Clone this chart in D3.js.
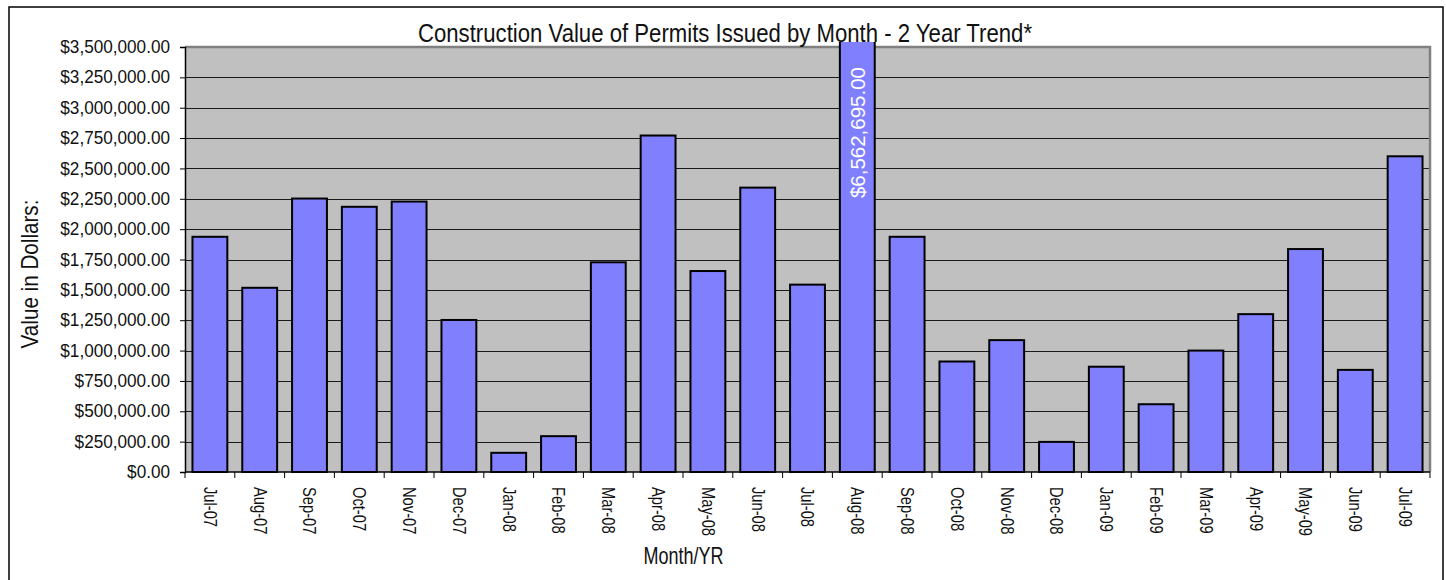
<!DOCTYPE html>
<html>
<head>
<meta charset="utf-8">
<script src="https://cdn.jsdelivr.net/npm/d3@7"></script>
<style>
  html, body { margin: 0; padding: 0; background: #fff; }
  svg { display: block; }
  .narrow { font-family: "Liberation Sans Narrow", "Arial Narrow", "Liberation Sans", Arial, sans-serif; }
</style>
</head>
<body>
<svg id="chart" width="1446" height="580"></svg>
<script>
const categories = ["Jul-07","Aug-07","Sep-07","Oct-07","Nov-07","Dec-07","Jan-08","Feb-08","Mar-08","Apr-08","May-08","Jun-08","Jul-08","Aug-08","Sep-08","Oct-08","Nov-08","Dec-08","Jan-09","Feb-09","Mar-09","Apr-09","May-09","Jun-09","Jul-09"];
const values = [1937000,1517000,2252000,2184000,2227000,1252000,158000,295000,1727000,2771000,1655000,2342000,1543000,6562695,1937000,910000,1086000,248000,867000,558000,1000000,1300000,1836000,841000,2600000];
const yTicks = [0,250000,500000,750000,1000000,1250000,1500000,1750000,2000000,2250000,2500000,2750000,3000000,3250000,3500000];
const titleText = "Construction Value of Permits Issued by Month - 2 Year Trend*";
const yTitle = "Value in Dollars:";
const xTitle = "Month/YR";
const labelledIndex = 13; // Aug-08 value shown as label

const svg = d3.select("#chart");
const plot = {left: 185, right: 1430, top: 47, bottom: 472};

// horizontally condense text (reference uses a narrow face)
function squeeze(sel, factor) {
  sel.each(function () {
    const w = this.getComputedTextLength();
    d3.select(this).attr("textLength", w * factor).attr("lengthAdjust", "spacingAndGlyphs");
  });
}

// outer frame
svg.append("rect").attr("x", 9).attr("y", 7).attr("width", 1434).attr("height", 600)
  .attr("fill", "#fff").attr("stroke", "#000").attr("stroke-width", 1.5);

const x = d3.scaleBand().domain(categories).range([plot.left, plot.right]).paddingInner(0.3).paddingOuter(0.15);
const y = d3.scaleLinear().domain([0, 3500000]).range([plot.bottom, plot.top]);

// plot area
svg.append("rect").attr("x", plot.left).attr("y", plot.top)
  .attr("width", plot.right - plot.left).attr("height", plot.bottom - plot.top)
  .attr("fill", "#C0C0C0");

// gridlines
svg.append("g").selectAll("line").data(yTicks.filter(d => d > 0 && d < 3500000)).join("line")
  .attr("x1", plot.left).attr("x2", plot.right)
  .attr("y1", d => Math.round(y(d)) + 0.5).attr("y2", d => Math.round(y(d)) + 0.5)
  .attr("stroke", "#1a1a1a").attr("stroke-width", 1);

// plot border top/right (gray)
svg.append("path")
  .attr("d", `M${plot.left},${plot.top} H${plot.right} V${plot.bottom}`)
  .attr("fill", "none").attr("stroke", "#808080").attr("stroke-width", 2.5);

// clip for bars (slight overshoot above plot top as in reference)
svg.append("clipPath").attr("id", "barclip").append("rect")
  .attr("x", plot.left).attr("y", plot.top - 5).attr("width", plot.right - plot.left).attr("height", plot.bottom - plot.top + 10);

const bars = svg.append("g").attr("clip-path", "url(#barclip)");
bars.selectAll("rect").data(values).join("rect")
  .attr("x", (d, i) => x(categories[i]))
  .attr("width", x.bandwidth())
  .attr("y", d => y(d))
  .attr("height", d => y(0) - y(d))
  .attr("fill", "#8080FF").attr("stroke", "#000").attr("stroke-width", 2);

// value label for the off-scale bar
const lx = x(categories[labelledIndex]) + x.bandwidth() / 2;
svg.append("text")
  .attr("transform", `translate(${lx},${plot.top + 20}) rotate(-90)`)
  .attr("text-anchor", "end").attr("dy", "0.36em")
  .attr("font-family", "'Liberation Sans', Arial, sans-serif").attr("font-size", 20.5)
  .attr("fill", "#fff")
  .text(d3.format("$,.2f")(values[labelledIndex]));

// y axis
const yAxis = d3.axisLeft(y).tickValues(yTicks).tickSize(5).tickPadding(10).tickFormat(d3.format("$,.2f"));
const gy = svg.append("g").attr("transform", `translate(${plot.left},0)`).call(yAxis);
gy.select(".domain").attr("stroke", "#000").attr("stroke-width", 1.5);
gy.selectAll(".tick line").attr("stroke", "#000");
gy.selectAll(".tick text").attr("class", "narrow").attr("font-size", 17.5).attr("fill", "#111");
squeeze(gy.selectAll(".tick text"), 0.98);

// x axis: ticks at band boundaries
const gx = svg.append("g");
gx.append("line").attr("x1", plot.left).attr("x2", plot.right).attr("y1", plot.bottom).attr("y2", plot.bottom)
  .attr("stroke", "#000").attr("stroke-width", 1.5);
const bounds = categories.map(c => x(c) - x.step() * x.paddingInner() / 2).concat([plot.right]);
gx.selectAll("line.t").data(bounds).join("line").attr("class", "t")
  .attr("x1", d => d).attr("x2", d => d).attr("y1", plot.bottom).attr("y2", plot.bottom + 6)
  .attr("stroke", "#000");
const xl = gx.selectAll("text").data(categories).join("text")
  .attr("class", "narrow")
  .attr("transform", d => `translate(${x(d) + x.bandwidth() / 2},${plot.bottom + 15}) rotate(90)`)
  .attr("text-anchor", "start").attr("dy", "0.35em")
  .attr("font-size", 17.5).attr("fill", "#111")
  .text(d => d);
squeeze(xl, 0.84);

// title
const tt = svg.append("text").attr("class", "narrow")
  .attr("x", 725).attr("y", 41.5).attr("text-anchor", "middle")
  .attr("font-size", 26).attr("fill", "#111")
  .text(titleText);
squeeze(tt, 0.852);

// axis titles
const yt = svg.append("text").attr("class", "narrow")
  .attr("transform", `translate(38,274) rotate(-90)`).attr("text-anchor", "middle")
  .attr("font-size", 24).attr("fill", "#111").text(yTitle);
squeeze(yt, 0.86);
const xt = svg.append("text").attr("class", "narrow")
  .attr("x", 683.5).attr("y", 564).attr("text-anchor", "middle")
  .attr("font-size", 24).attr("fill", "#111").text(xTitle);
squeeze(xt, 0.75);
</script>
</body>
</html>
